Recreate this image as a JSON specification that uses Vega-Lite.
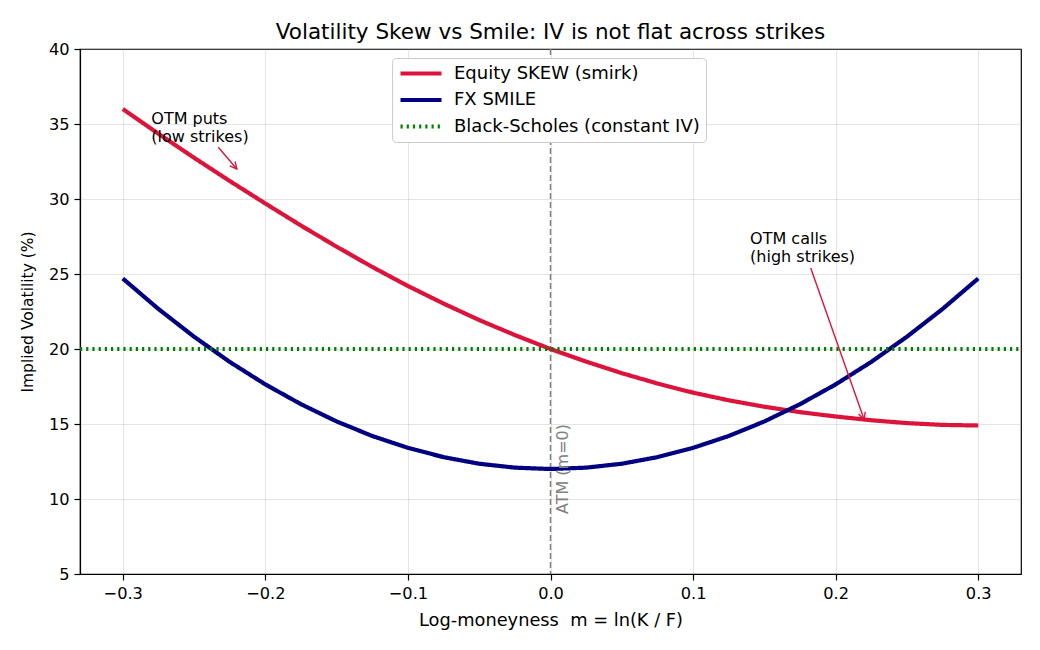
{
  "$schema": "https://vega.github.io/schema/vega-lite/v6.json",
  "width": 941,
  "height": 525,
  "autosize": "none",
  "padding": {"left": 80, "top": 49, "right": 19, "bottom": 76},
  "background": "white",
  "title": {
    "text": "Volatility Skew vs Smile: IV is not flat across strikes",
    "font": "DejaVu Sans",
    "fontSize": 21.5,
    "fontWeight": "normal",
    "color": "black",
    "offset": -2
  },
  "config": {
    "view": {"stroke": "black", "strokeWidth": 1.2},
    "axis": {
      "labelFont": "DejaVu Sans",
      "labelFontSize": 16.2,
      "labelColor": "black",
      "titleFont": "DejaVu Sans",
      "titleFontWeight": "normal",
      "titleColor": "black",
      "tickColor": "black",
      "tickSize": 6,
      "tickWidth": 1.2,
      "domainColor": "black",
      "domainWidth": 1.2,
      "grid": true,
      "gridColor": "#b0b0b0",
      "gridOpacity": 0.33,
      "gridWidth": 1.1,
      "labelPadding": 5
    },
    "legend": {
      "labelFont": "DejaVu Sans",
      "labelFontSize": 18,
      "labelColor": "black",
      "labelLimit": 400
    }
  },
  "datasets": {
    "curves": [
      {"m": -0.3, "iv": 36.0, "series": "Equity SKEW (smirk)"},
      {"m": -0.275, "iv": 34.35, "series": "Equity SKEW (smirk)"},
      {"m": -0.25, "iv": 32.75, "series": "Equity SKEW (smirk)"},
      {"m": -0.225, "iv": 31.2, "series": "Equity SKEW (smirk)"},
      {"m": -0.2, "iv": 29.7, "series": "Equity SKEW (smirk)"},
      {"m": -0.175, "iv": 28.23, "series": "Equity SKEW (smirk)"},
      {"m": -0.15, "iv": 26.82, "series": "Equity SKEW (smirk)"},
      {"m": -0.125, "iv": 25.47, "series": "Equity SKEW (smirk)"},
      {"m": -0.1, "iv": 24.2, "series": "Equity SKEW (smirk)"},
      {"m": -0.075, "iv": 23.03, "series": "Equity SKEW (smirk)"},
      {"m": -0.05, "iv": 21.93, "series": "Equity SKEW (smirk)"},
      {"m": -0.025, "iv": 20.93, "series": "Equity SKEW (smirk)"},
      {"m": 0.0, "iv": 20.0, "series": "Equity SKEW (smirk)"},
      {"m": 0.025, "iv": 19.16, "series": "Equity SKEW (smirk)"},
      {"m": 0.05, "iv": 18.39, "series": "Equity SKEW (smirk)"},
      {"m": 0.075, "iv": 17.7, "series": "Equity SKEW (smirk)"},
      {"m": 0.1, "iv": 17.09, "series": "Equity SKEW (smirk)"},
      {"m": 0.125, "iv": 16.58, "series": "Equity SKEW (smirk)"},
      {"m": 0.15, "iv": 16.15, "series": "Equity SKEW (smirk)"},
      {"m": 0.175, "iv": 15.79, "series": "Equity SKEW (smirk)"},
      {"m": 0.2, "iv": 15.5, "series": "Equity SKEW (smirk)"},
      {"m": 0.225, "iv": 15.25, "series": "Equity SKEW (smirk)"},
      {"m": 0.25, "iv": 15.06, "series": "Equity SKEW (smirk)"},
      {"m": 0.275, "iv": 14.94, "series": "Equity SKEW (smirk)"},
      {"m": 0.3, "iv": 14.9, "series": "Equity SKEW (smirk)"},
      {"m": -0.3, "iv": 24.7, "series": "FX SMILE"},
      {"m": -0.275, "iv": 22.67, "series": "FX SMILE"},
      {"m": -0.25, "iv": 20.82, "series": "FX SMILE"},
      {"m": -0.225, "iv": 19.14, "series": "FX SMILE"},
      {"m": -0.2, "iv": 17.64, "series": "FX SMILE"},
      {"m": -0.175, "iv": 16.32, "series": "FX SMILE"},
      {"m": -0.15, "iv": 15.17, "series": "FX SMILE"},
      {"m": -0.125, "iv": 14.2, "series": "FX SMILE"},
      {"m": -0.1, "iv": 13.41, "series": "FX SMILE"},
      {"m": -0.075, "iv": 12.79, "series": "FX SMILE"},
      {"m": -0.05, "iv": 12.35, "series": "FX SMILE"},
      {"m": -0.025, "iv": 12.09, "series": "FX SMILE"},
      {"m": 0.0, "iv": 12.0, "series": "FX SMILE"},
      {"m": 0.025, "iv": 12.09, "series": "FX SMILE"},
      {"m": 0.05, "iv": 12.35, "series": "FX SMILE"},
      {"m": 0.075, "iv": 12.79, "series": "FX SMILE"},
      {"m": 0.1, "iv": 13.41, "series": "FX SMILE"},
      {"m": 0.125, "iv": 14.2, "series": "FX SMILE"},
      {"m": 0.15, "iv": 15.17, "series": "FX SMILE"},
      {"m": 0.175, "iv": 16.32, "series": "FX SMILE"},
      {"m": 0.2, "iv": 17.64, "series": "FX SMILE"},
      {"m": 0.225, "iv": 19.14, "series": "FX SMILE"},
      {"m": 0.25, "iv": 20.82, "series": "FX SMILE"},
      {"m": 0.275, "iv": 22.67, "series": "FX SMILE"},
      {"m": 0.3, "iv": 24.7, "series": "FX SMILE"},
      {"m": -0.33, "iv": 20.0, "series": "Black-Scholes (constant IV)"},
      {"m": 0.33, "iv": 20.0, "series": "Black-Scholes (constant IV)"}
    ],
    "notes": [
      {"id": "puts", "label": "OTM puts\n(low strikes)", "m_text": -0.28, "iv_text": 35.0, "m_from": -0.233, "iv_from": 33.45, "m_to": -0.22, "iv_to": 32.0},
      {"id": "calls", "label": "OTM calls\n(high strikes)", "m_text": 0.14, "iv_text": 27.0, "m_from": 0.1825, "iv_from": 25.4, "m_to": 0.22, "iv_to": 15.3}
    ]
  },
  "layer": [
    {
      "data": {"values": [{}]},
      "mark": {"type": "rule", "color": "#808080", "strokeWidth": 1.5, "strokeDash": [6, 3]},
      "encoding": {
        "x": {
          "datum": 0,
          "type": "quantitative",
          "axis": {
            "grid": true,
            "values": [-0.3, -0.2, -0.1, 0.0, 0.1, 0.2, 0.3],
            "format": ".1f",
            "title": "Log-moneyness\u00a0 m = ln(K / F)",
            "titleFontSize": 17.8,
            "titlePadding": 10
          }
        }
      }
    },
    {
      "data": {"name": "curves"},
      "mark": {"type": "line", "strokeCap": "butt"},
      "encoding": {
        "x": {
          "field": "m",
          "type": "quantitative",
          "scale": {"domain": [-0.33, 0.33], "nice": false, "zero": false},
          "axis": {
            "grid": true,
            "values": [-0.3, -0.2, -0.1, 0.0, 0.1, 0.2, 0.3],
            "format": ".1f",
            "title": "Log-moneyness\u00a0 m = ln(K / F)",
            "titleFontSize": 17.8,
            "titlePadding": 10
          }
        },
        "y": {
          "field": "iv",
          "type": "quantitative",
          "scale": {"domain": [5, 40], "nice": false, "zero": false},
          "axis": {
            "grid": true,
            "values": [5, 10, 15, 20, 25, 30, 35, 40],
            "format": "d",
            "title": "Implied Volatility (%)",
            "titleFontSize": 15.5,
            "titlePadding": 13
          }
        },
        "color": {
          "field": "series",
          "type": "nominal",
          "scale": {
            "domain": ["Equity SKEW (smirk)", "FX SMILE", "Black-Scholes (constant IV)"],
            "range": ["#DC143C", "#000080", "#008000"]
          },
          "legend": {
            "title": null,
            "orient": "none",
            "legendX": 312,
            "legendY": 9,
            "symbolType": "stroke",
            "symbolSize": 1681,
            "symbolStrokeWidth": 4,
            "clipHeight": 19,
            "rowPadding": 7.5,
            "labelOffset": 10,
            "padding": 6,
            "fillColor": "white",
            "strokeColor": "#cccccc",
            "cornerRadius": 4
          }
        },
        "strokeDash": {
          "field": "series",
          "type": "nominal",
          "scale": {
            "domain": ["Equity SKEW (smirk)", "FX SMILE", "Black-Scholes (constant IV)"],
            "range": [[1, 0], [1, 0], [2.2, 4]]
          },
          "legend": {
            "title": null,
            "orient": "none",
            "legendX": 312,
            "legendY": 9,
            "symbolType": "stroke",
            "symbolSize": 1681,
            "symbolStrokeWidth": 4,
            "clipHeight": 19,
            "rowPadding": 7.5,
            "labelOffset": 10,
            "padding": 6,
            "fillColor": "white",
            "strokeColor": "#cccccc",
            "cornerRadius": 4
          }
        },
        "strokeWidth": {
          "field": "series",
          "type": "nominal",
          "scale": {
            "domain": ["Equity SKEW (smirk)", "FX SMILE", "Black-Scholes (constant IV)"],
            "range": [4.2, 4.2, 2.2]
          },
          "legend": null
        }
      }
    },
    {
      "data": {"values": [{}]},
      "mark": {
        "type": "text",
        "angle": 270,
        "align": "left",
        "baseline": "middle",
        "font": "DejaVu Sans",
        "fontSize": 16,
        "color": "#808080"
      },
      "encoding": {
        "x": {"datum": 0.009},
        "y": {"datum": 9},
        "text": {"value": "ATM (m=0)"}
      }
    },
    {
      "data": {"name": "notes"},
      "mark": {
        "type": "text",
        "align": "left",
        "baseline": "alphabetic",
        "font": "DejaVu Sans",
        "fontSize": 16,
        "lineBreak": "\n",
        "lineHeight": 17.5,
        "color": "black"
      },
      "encoding": {
        "x": {"field": "m_text", "type": "quantitative"},
        "y": {"field": "iv_text", "type": "quantitative"},
        "text": {"field": "label"}
      }
    },
    {
      "data": {"name": "notes"},
      "mark": {"type": "rule", "color": "#DC143C", "strokeWidth": 1.4},
      "encoding": {
        "x": {"field": "m_from", "type": "quantitative"},
        "y": {"field": "iv_from", "type": "quantitative"},
        "x2": {"field": "m_to"},
        "y2": {"field": "iv_to"}
      }
    },
    {
      "data": {"name": "notes"},
      "transform": [{"filter": "datum.id === 'puts'"}],
      "mark": {
        "type": "point",
        "shape": "M-0.5,1L0,0L0.5,1",
        "filled": false,
        "size": 196,
        "angle": 141,
        "stroke": "#DC143C",
        "strokeWidth": 1.4,
        "opacity": 1
      },
      "encoding": {
        "x": {"field": "m_to", "type": "quantitative"},
        "y": {"field": "iv_to", "type": "quantitative"}
      }
    },
    {
      "data": {"name": "notes"},
      "transform": [{"filter": "datum.id === 'calls'"}],
      "mark": {
        "type": "point",
        "shape": "M-0.5,1L0,0L0.5,1",
        "filled": false,
        "size": 196,
        "angle": 161,
        "stroke": "#DC143C",
        "strokeWidth": 1.4,
        "opacity": 1
      },
      "encoding": {
        "x": {"field": "m_to", "type": "quantitative"},
        "y": {"field": "iv_to", "type": "quantitative"}
      }
    }
  ]
}
